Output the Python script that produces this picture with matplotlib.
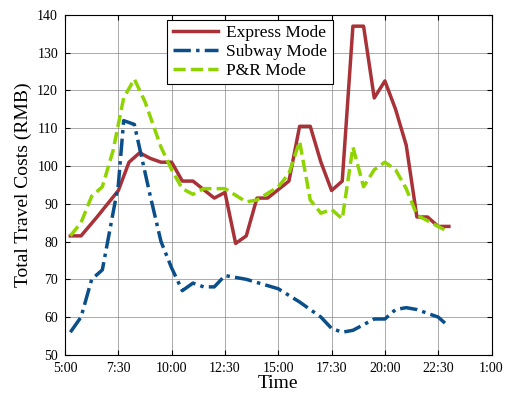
import matplotlib.pyplot as plt

plt.rcParams['font.family'] = 'Liberation Serif'

# hours since midnight
express_t = [5.25, 5.75, 6.5, 7, 7.5, 8, 8.5, 9, 9.5, 10, 10.5, 11, 12, 12.5, 13, 13.5, 14, 14.5,
             15.5, 16, 16.5, 17, 17.5, 18, 18.5, 19, 19.5, 20, 20.5, 21, 21.5, 22, 22.5, 23]
express_v = [81.5, 81.5, 86.5, 90, 93.5, 101, 103.5, 102, 101, 101, 96, 96, 91.5, 93, 79.5, 81.5, 91.5, 91.5,
             96, 110.5, 110.5, 101, 93.5, 96, 137, 137, 118, 122.5, 115, 105.5, 86.5, 86.5, 84, 84]

subway_t = [5.25, 5.75, 6.25, 6.75, 7.5, 7.75, 8.25, 9, 9.5, 10, 10.5, 11, 11.5, 12, 12.5, 13.5, 15,
            16, 17, 17.5, 18, 18.5, 19.5, 20, 20.5, 21, 21.5, 22.5, 23]
subway_v = [56, 60, 70, 72.5, 95, 112, 111, 92, 80, 73, 67, 69, 68, 68, 71, 70, 67.5,
            64, 60, 57, 56, 56.5, 59.5, 59.5, 62, 62.5, 62, 60, 57.5]

pr_t = [5.25, 5.75, 6.25, 6.75, 7.25, 7.75, 8.25, 8.75, 9.5, 10, 10.5, 11, 11.5, 12.5, 13.5, 14, 15,
        15.5, 16, 16.5, 17, 17.5, 18, 18.5, 19, 19.5, 20, 20.5, 21, 21.5, 22, 23]
pr_v = [81.5, 85, 92, 94.5, 104, 118, 123, 117, 105, 99, 94, 92.5, 94, 94, 90.5, 91, 94.5,
        98, 106.5, 91, 87.5, 88.5, 86, 105, 94.5, 99, 101, 99, 94, 87, 85.5, 82.5]

xticks = [5, 7.5, 10, 12.5, 15, 17.5, 20, 22.5, 25]
xlabels = ["5:00", "7:30", "10:00", "12:30", "15:00", "17:30", "20:00", "22:30", "1:00"]

fig, ax = plt.subplots(figsize=(5.12, 4.01), dpi=100)
ax.plot(express_t, express_v, color="#A83238", lw=2.5, label="Express Mode")
ax.plot(subway_t, subway_v, color="#0B4F8A", lw=2.5, ls=(0, (5, 1.5, 1, 1.5)), label="Subway Mode")
ax.plot(pr_t, pr_v, color="#8FD400", lw=2.5, ls=(0, (3.5, 1.5)), label="P&R Mode")

ax.set_xlim(5, 25)
ax.set_ylim(50, 140)
ax.set_xticks(xticks)
ax.set_xticklabels(xlabels)
ax.set_yticks(range(50, 141, 10))
ax.tick_params(direction="in", labelsize=10, right=True, top=True, pad=5)
ax.grid(True, color="#888888", ls="-", lw=0.5)
ax.set_xlabel("Time", fontsize=14, labelpad=0)
ax.set_ylabel("Total Travel Costs (RMB)", fontsize=14)
leg = ax.legend(loc="upper left", bbox_to_anchor=(0.24, 0.985), fontsize=12.5, fancybox=False,
                edgecolor="black", framealpha=1, handlelength=2.6, borderpad=0.3, labelspacing=0.15,
                borderaxespad=0, handletextpad=0.5)
leg.get_frame().set_linewidth(0.8)

plt.subplots_adjust(left=0.127, right=0.96, top=0.963, bottom=0.115)
plt.savefig("out.png", dpi=100)
